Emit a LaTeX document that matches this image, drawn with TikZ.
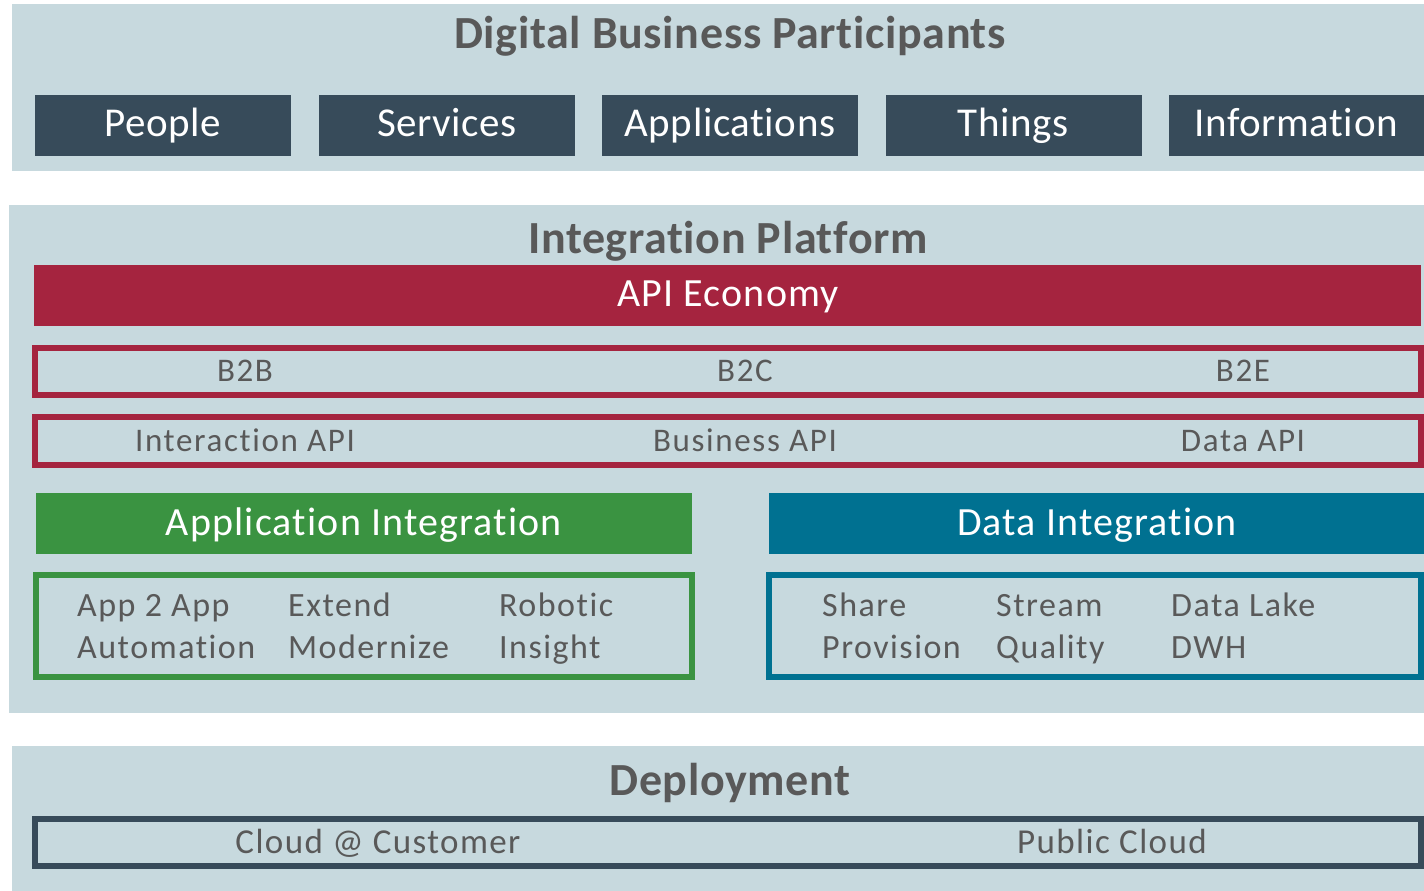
\documentclass[tikz,border=0pt]{standalone}
\usepackage{fontspec}
\setmainfont[Ligatures={NoCommon,NoContextual}]{Carlito}
\definecolor{panel}{HTML}{C7D9DE}
\definecolor{darkbox}{HTML}{374B5A}
\definecolor{apired}{HTML}{A5243F}
\definecolor{appgreen}{HTML}{3A9341}
\definecolor{datablue}{HTML}{007191}
\definecolor{txtgray}{HTML}{595959}
\tikzset{
  panelbg/.style={fill=panel},
  title/.style={anchor=base, text=txtgray, font=\fontsize{46}{50}\selectfont\bfseries\addfontfeature{LetterSpace=1.4}, inner sep=0pt},
  partbox/.style={fill=darkbox},
  parttext/.style={anchor=base, text=white, font=\fontsize{41}{45}\selectfont\addfontfeature{LetterSpace=1.5}, inner sep=0pt},
  bartext/.style={anchor=base, text=white, font=\fontsize{40}{44}\selectfont\addfontfeature{LetterSpace=2.9}, inner sep=0pt},
  frametext/.style={anchor=base, text=txtgray, font=\fontsize{33}{37}\selectfont\addfontfeature{LetterSpace=5}, inner sep=0pt},
  deptext/.style={anchor=base, text=txtgray, font=\fontsize{35}{39}\selectfont\addfontfeature{LetterSpace=4}, inner sep=0pt},
  celltext/.style={anchor=base west, text=txtgray, font=\fontsize{34}{38}\selectfont\addfontfeature{LetterSpace=4.4}, inner sep=0pt},
  framebox/.style={line width=6pt, draw=#1},
}
\begin{document}
\begin{tikzpicture}[x=1pt,y=-1pt]
\useasboundingbox (0,0) rectangle (1424,891);
\clip (0,0) rectangle (1424,891);
% panels
\fill[panelbg] (12,4) rectangle (1424,171);
\fill[panelbg] (9,205) rectangle (1424,713);
\fill[panelbg] (12,746) rectangle (1424,891);
% top section
\node[title] (t1) at (730,48.5) {Digital Business Participants};
\fill[partbox] (35,95) rectangle (291,156);
\fill[partbox] (319,95) rectangle (575,156);
\fill[partbox] (602,95) rectangle (858,156);
\fill[partbox] (886,95) rectangle (1142,156);
\fill[partbox] (1169,95) rectangle (1430,156);
\node[parttext] (p1) at (163,136.5) {People};
\node[parttext] (p2) at (447,136.5) {Services};
\node[parttext] (p3) at (730,136.5) {Applications};
\node[parttext] (p4) at (1013,136.5) {Things};
\node[parttext] (p5) at (1296,136.5) {Information};
% integration platform
\node[title] (t2) at (728,253) {Integration Platform};
\fill[apired] (34,265) rectangle (1421,326);
\node[bartext] (api) at (728,306.5) {API Economy};
\draw[framebox=apired] (35,348) rectangle (1421,395);
\node[frametext] (b2b) at (245,381.5) {B2B};
\node[frametext] (b2c) at (745,381.5) {B2C};
\node[frametext] (b2e) at (1243,381.5) {B2E};
\draw[framebox=apired] (35,417) rectangle (1421,465);
\node[frametext] (iapi) at (245,451) {Interaction API};
\node[frametext] (bapi) at (745,451) {Business API};
\node[frametext] (dapi) at (1243,451) {Data API};
% application integration
\fill[appgreen] (36,493) rectangle (692,554);
\node[bartext] (ai) at (364,535) {Application Integration};
\draw[framebox=appgreen] (35.5,575) rectangle (692,677);
\node[celltext] (a1) at (77,616) {App 2 App};
\node[celltext] (a2) at (77,658) {Automation};
\node[celltext] (a3) at (288,616) {Extend};
\node[celltext] (a4) at (288,658) {Modernize};
\node[celltext] (a5) at (499,616) {Robotic};
\node[celltext] (a6) at (499,658) {Insight};
% data integration
\fill[datablue] (769,493) rectangle (1430,554);
\node[bartext] (di) at (1097,535) {Data Integration};
\draw[framebox=datablue] (769,575) rectangle (1421,677);
\node[celltext] (d1) at (822,616) {Share};
\node[celltext] (d2) at (822,658) {Provision};
\node[celltext] (d3) at (996,616) {Stream};
\node[celltext] (d4) at (996,658) {Quality};
\node[celltext] (d5) at (1171,616) {Data Lake};
\node[celltext] (d6) at (1171,658) {DWH};
% deployment
\node[title] (t3) at (730,795) {Deployment};
\draw[framebox=darkbox] (35,819) rectangle (1421,866);
\node[deptext] (c1) at (378,853) {Cloud @ Customer};
\node[deptext] (c2) at (1112,853) {Public Cloud};
\end{tikzpicture}
\end{document}
